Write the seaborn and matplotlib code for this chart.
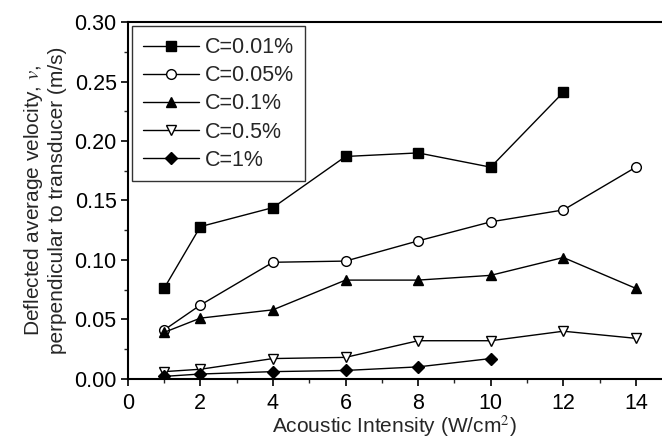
import pandas as pd
import matplotlib
matplotlib.use("Agg")
import matplotlib.pyplot as plt
import seaborn as sns
from matplotlib.ticker import MultipleLocator

# values
intensity = [1, 2, 4, 6, 8, 10, 12, 14]
v_001 = [0.076, 0.128, 0.144, 0.187, 0.190, 0.178, 0.241]
v_005 = [0.041, 0.062, 0.098, 0.099, 0.116, 0.132, 0.142, 0.178]
v_01 = [0.039, 0.051, 0.058, 0.083, 0.083, 0.087, 0.102, 0.076]
v_05 = [0.006, 0.008, 0.017, 0.018, 0.032, 0.032, 0.040, 0.034]
v_1 = [0.002, 0.004, 0.006, 0.007, 0.010, 0.017]

labels = ["C=0.01%", "C=0.05%", "C=0.1%", "C=0.5%", "C=1%"]
series = [v_001, v_005, v_01, v_05, v_1]
markers = ["s", "o", "^", "v", "D"]
filled = [True, False, True, False, True]

sns.set_style("ticks")
plt.rcParams["font.family"] = ["Liberation Sans", "DejaVu Sans"]
plt.rcParams["mathtext.fontset"] = "stix"

fig = plt.figure(figsize=(6.62, 4.43), dpi=100)
ax = fig.add_axes([0.193, 0.145, 0.806, 0.805])

for lab, vals, m, f in zip(labels, series, markers, filled):
    df = pd.DataFrame({"I": intensity[:len(vals)], "v": vals})
    sns.lineplot(data=df, x="I", y="v", ax=ax, color="black", lw=1,
                 marker=m, markersize=7 if m != "D" else 6.5,
                 markerfacecolor="black" if f else "white",
                 markeredgecolor="black", markeredgewidth=1, label=lab)

ax.set_xlim(0, 14.7)
ax.set_ylim(0, 0.30)
ax.xaxis.set_major_locator(MultipleLocator(2))
ax.xaxis.set_minor_locator(MultipleLocator(1))
ax.yaxis.set_major_locator(MultipleLocator(0.05))
ax.yaxis.set_minor_locator(MultipleLocator(0.025))
ax.yaxis.set_major_formatter(matplotlib.ticker.FormatStrFormatter("%.2f"))
ax.tick_params(which="major", direction="out", length=5, width=1.2, labelsize=15.5,
               colors="black", pad=3)
ax.tick_params(axis="x", which="major", pad=5)
ax.tick_params(which="minor", direction="out", length=3, width=1)
for s in ["left", "bottom", "top"]:
    ax.spines[s].set_linewidth(1.5)
    ax.spines[s].set_color("black")
ax.spines["right"].set_visible(False)

ax.set_xlabel("Acoustic Intensity (W/cm$^2$)", fontsize=15, labelpad=0)
ax.set_ylabel("Deflected average velocity, $v$,\nperpendicular to transducer (m/s)",
              fontsize=15, labelpad=5, linespacing=1.25)

leg = ax.legend(loc="upper left", fontsize=15.5, handlelength=2.6, frameon=True,
                fancybox=False, edgecolor="black", borderaxespad=0.2,
                labelspacing=0.33, handletextpad=0.3, borderpad=0.5)
leg.get_frame().set_linewidth(1)

fig.savefig("out.png", dpi=100)
